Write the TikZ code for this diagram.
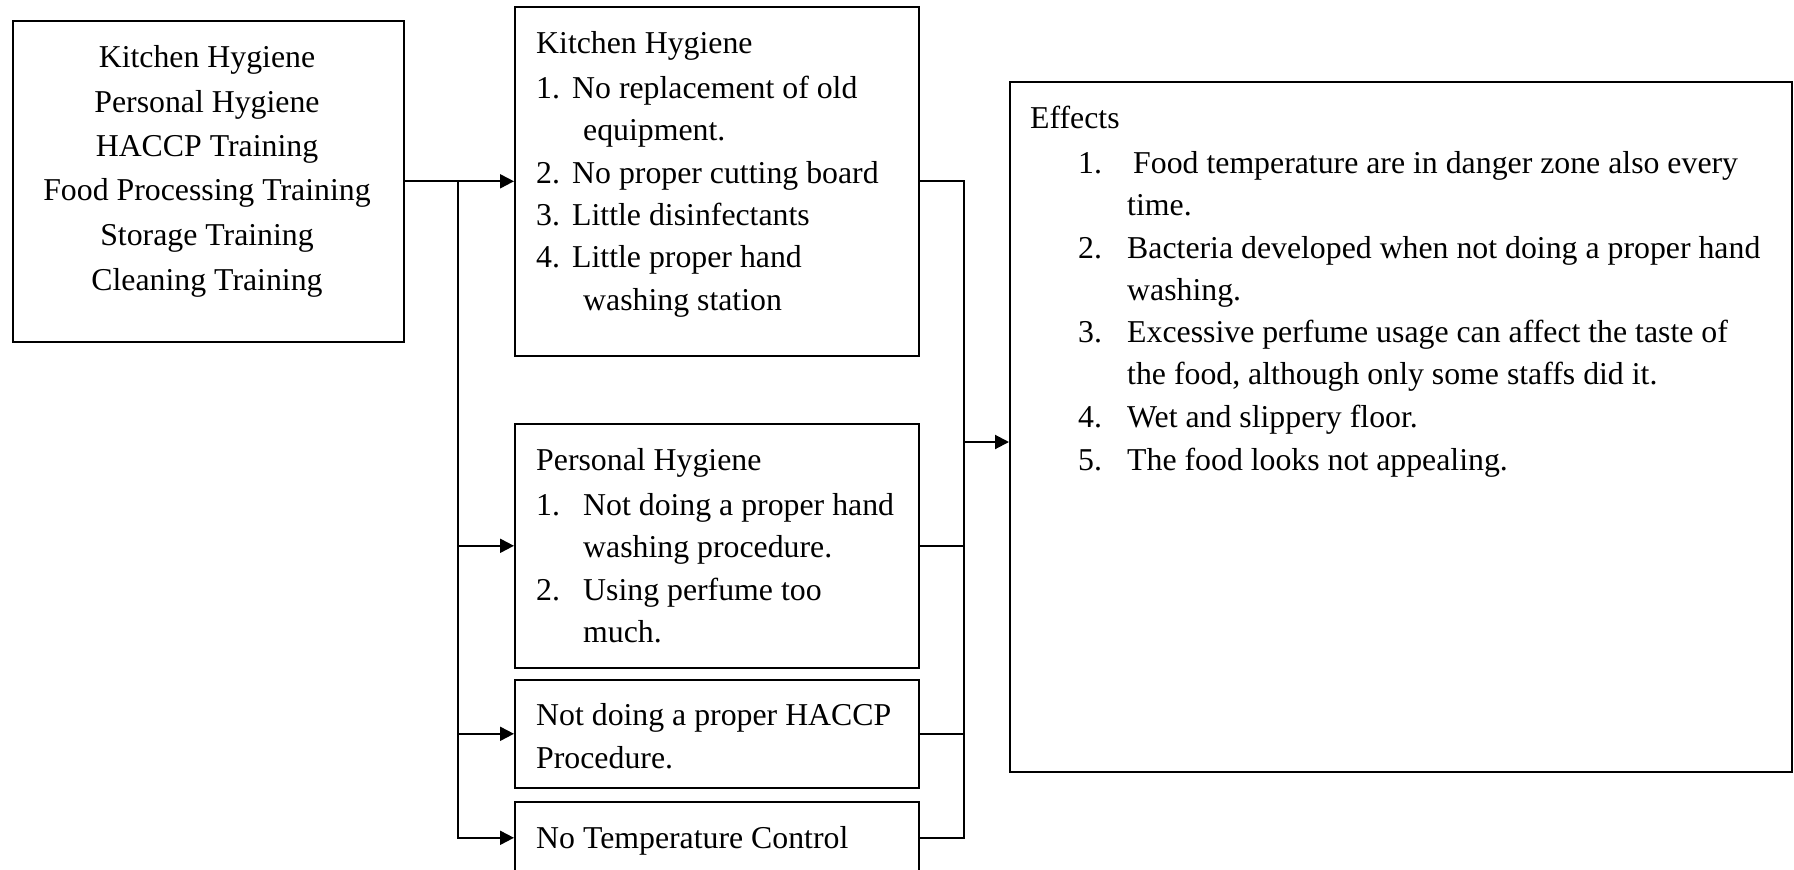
\documentclass[tikz,border=0pt]{standalone}
\usepackage{fontspec}
\setmainfont{Liberation Serif}
\usetikzlibrary{arrows.meta}
\begin{document}
\begin{tikzpicture}[x=1pt,y=-1pt,
  box/.style={draw, line width=1.6pt, inner sep=0pt, anchor=north west},
  txt/.style={inner sep=0pt, anchor=base west, font=\fontsize{31.8}{38}\selectfont},
  ctxt/.style={txt, anchor=base},
  conn/.style={line width=2pt, line cap=rect},
  arr/.style={line width=2pt, -{Triangle[length=14pt,width=14pt]}}]
\useasboundingbox (0,0) rectangle (1794,870);
\clip (0,0) rectangle (1794,870);

% boxes
\node[box, minimum width=391pt, minimum height=321pt] (L) at (12,20) {};
\node[box, minimum width=404pt, minimum height=349pt] (K) at (514,6) {};
\node[box, minimum width=404pt, minimum height=244pt] (P) at (514,423) {};
\node[box, minimum width=404pt, minimum height=108pt] (H) at (514,679) {};
\node[box, minimum width=404pt, minimum height=72pt] (T) at (514,801) {};
\node[box, minimum width=782pt, minimum height=690pt] (E) at (1009,81) {};

% left box text
\node[ctxt] (l1) at (207,67) {Kitchen Hygiene};
\node[ctxt] (l2) at (207,112) {Personal Hygiene};
\node[ctxt] (l3) at (207,156) {HACCP Training};
\node[ctxt] (l4) at (207,200) {Food Processing Training};
\node[ctxt] (l5) at (207,245) {Storage Training};
\node[ctxt] (l6) at (207,290) {Cleaning Training};

% kitchen hygiene box
\node[txt] (k0) at (536,53) {Kitchen Hygiene};
\node[txt] (k1n) at (536,98) {1.};
\node[txt] (k1) at (572,98) {No replacement of old};
\node[txt] (k1b) at (583,140) {equipment.};
\node[txt] (k2n) at (536,183) {2.};
\node[txt] (k2) at (572,183) {No proper cutting board};
\node[txt] (k3n) at (536,225) {3.};
\node[txt] (k3) at (572,225) {Little disinfectants};
\node[txt] (k4n) at (536,267) {4.};
\node[txt] (k4) at (572,267) {Little proper hand};
\node[txt] (k4b) at (583,310) {washing station};

% personal hygiene box
\node[txt] (p0) at (536,470) {Personal Hygiene};
\node[txt] (p1n) at (536,515) {1.};
\node[txt] (p1) at (583,515) {Not doing a proper hand};
\node[txt] (p1b) at (583,557) {washing procedure.};
\node[txt] (p2n) at (536,600) {2.};
\node[txt] (p2) at (583,600) {Using perfume too};
\node[txt] (p2b) at (583,642) {much.};

% HACCP box
\node[txt] (h1) at (536,725) {Not doing a proper HACCP};
\node[txt] (h2) at (536,768) {Procedure.};

% temperature box
\node[txt] (t1) at (536,848) {No Temperature Control};

% effects box
\node[txt] (e0) at (1030,128) {Effects};
\node[txt] (e1n) at (1078,173) {1.};
\node[txt] (e1) at (1133,173) {Food temperature are in danger zone also every};
\node[txt] (e1b) at (1127,215) {time.};
\node[txt] (e2n) at (1078,258) {2.};
\node[txt] (e2) at (1127,258) {Bacteria developed when not doing a proper hand};
\node[txt] (e2b) at (1127,300) {washing.};
\node[txt] (e3n) at (1078,342) {3.};
\node[txt] (e3) at (1127,342) {Excessive perfume usage can affect the taste of};
\node[txt] (e3b) at (1127,384) {the food, although only some staffs did it.};
\node[txt] (e4n) at (1078,427) {4.};
\node[txt] (e4) at (1127,427) {Wet and slippery floor.};
\node[txt] (e5n) at (1078,470) {5.};
\node[txt] (e5) at (1127,470) {The food looks not appealing.};

% connectors
\coordinate (tl) at (458,0);
\coordinate (tr) at (964,0);
\coordinate (ein) at (964,442);
\draw[conn] (L.east) -- (L.east -| tl);
\draw[conn] (tl |- K.west) -- (tl |- T.west);
\foreach \b in {K,P,H,T} \draw[arr] (tl |- \b.west) -- (\b.west);
\foreach \b in {K,P,H,T} \draw[conn] (\b.east) -- (tr |- \b.east);
\draw[conn] (tr |- K.east) -- (tr |- T.east);
\draw[arr] (ein) -- (ein -| E.west);
\end{tikzpicture}
\end{document}
